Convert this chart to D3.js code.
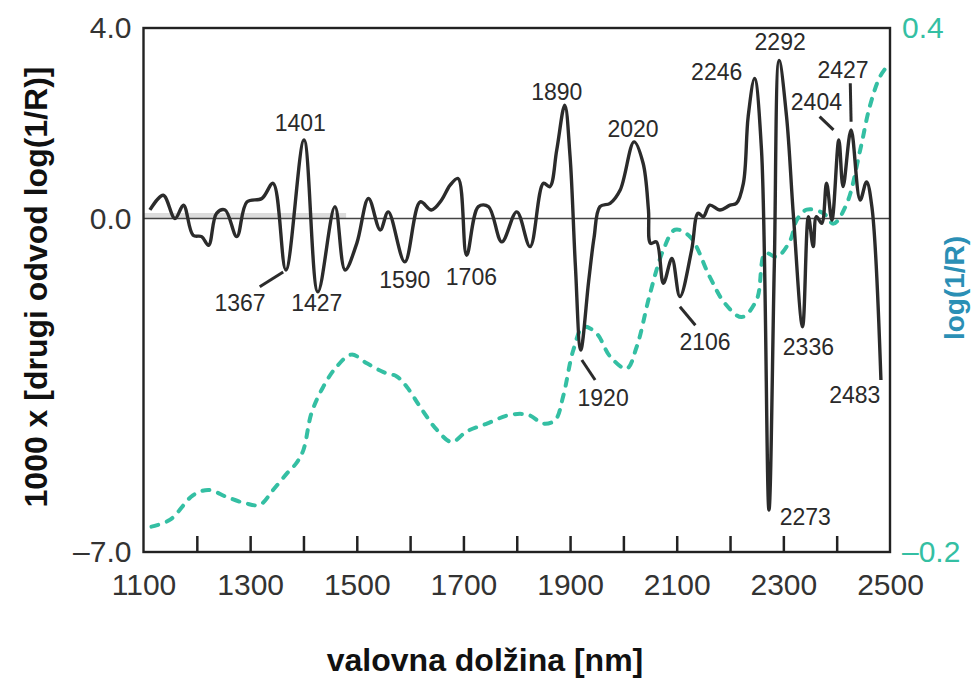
<!DOCTYPE html>
<html>
<head>
<meta charset="utf-8">
<script src="https://cdn.jsdelivr.net/npm/d3@7"></script>
<style>
  html, body { margin: 0; padding: 0; background: #fff; }
  svg { display: block; }
</style>
</head>
<body>
<svg id="chart" width="974" height="679"></svg>
<script>
// ---- data ----
const xTickLabels = [1100, 1300, 1500, 1700, 1900, 2100, 2300, 2500];
const xMinorTicks = [1200, 1300, 1400, 1500, 1600, 1700, 1800, 1900, 2000, 2100, 2200, 2300, 2400];
const yLeftTicks = [4.0, 0.0, -7.0];
const yRightTicks = [0.4, -0.2];

// second derivative (1000 x d2 log(1/R))
const derivNm = [1112,1137,1159,1175,1193,1209,1222,1237,1253,1275,
  1294,1322,1343,1367,1401,1427,1459,1478,1500,1522,
  1544,1559,1590,1619,1640,1659,1675,1690,1706,1728,
  1747,1772,1800,1825,1850,1862,1875,1890,1900,1910,
  1920,1935,1945,1956,1975,1994,2020,2037,2047,2051,
  2062,2075,2091,2106,2128,2140,2150,2162,2181,2200,
  2212,2225,2234,2246,2259,2273,2283,2292,2306,2319,2336,
  2347,2356,2362,2372,2381,2391,2404,2412,2427,2444,
  2456,2466,2483];
const derivVal = [0.18,0.49,0.0,0.28,-0.35,-0.38,-0.56,0.11,0.18,-0.38,
  0.35,0.42,0.74,-1.08,1.65,-1.54,0.25,-1.08,-0.52,0.42,
  -0.24,0.14,-0.91,0.35,0.18,0.39,0.70,0.84,-0.77,0.25,
  0.25,-0.49,0.14,-0.59,0.74,0.67,1.44,2.38,1.3,-1.0,
  -2.76,-1.3,-0.4,0.25,0.32,0.60,1.61,1.16,0.18,-0.52,
  -0.49,-1.36,-0.84,-1.64,-0.66,0.11,0.04,0.28,0.18,0.28,
  0.32,0.74,2.14,2.94,1.44,-6.12,-1.0,3.32,2.14,0.04,-2.27,
  0.04,-0.59,0.04,-0.10,0.74,-0.03,1.65,0.67,1.86,0.39,
  0.77,0.25,-3.39];

// log(1/R) spectrum
const spectrumNm = [1115,1150,1193,1222,1256,1290,1318,1343,1369,1387,
  1400,1415,1437,1462,1490,1519,1550,1575,1594,1619,
  1650,1678,1706,1744,1787,1822,1850,1872,1887,1906,
  1925,1950,1975,2006,2025,2050,2075,2097,2125,2162,
  2190,2222,2250,2266,2288,2313,2325,2344,2375,2394,
  2419,2444,2462,2481,2497];
const spectrumVal = [-0.171,-0.163,-0.135,-0.129,-0.137,-0.144,-0.146,-0.129,-0.110,-0.098,
  -0.083,-0.041,-0.011,0.012,0.026,0.016,0.006,0.001,-0.011,-0.034,
  -0.060,-0.074,-0.062,-0.053,-0.043,-0.043,-0.053,-0.049,-0.022,0.031,
  0.058,0.050,0.024,0.010,0.035,0.096,0.146,0.169,0.161,0.115,
  0.085,0.069,0.089,0.142,0.138,0.157,0.180,0.192,0.188,0.176,
  0.199,0.260,0.310,0.344,0.358];

// peak annotations (label text, label anchor in data units)
const peakLabels = ["1401","1367","1427","1590","1706","1890","1920","2020","2106","2246","2273","2292","2336","2404","2427","2483"];
const peakLabelNm = [1394,1281,1425,1590,1715,1875,1962,2018,2153,2175,2341,2294,2347,2362,2412,2434];
const peakLabelVal = [2.0,-1.77,-1.77,-1.29,-1.22,2.66,-3.77,1.89,-2.59,3.08,-6.26,3.71,-2.69,2.45,3.12,-3.71];

// leader lines (from nm/val to nm/val)
const leaderFromNm = [1318,1922,2106,2368,2425.5];
const leaderFromVal = [-1.43,-2.97,-1.85,2.14,2.84];
const leaderToNm = [1362,1947,2135,2394,2427];
const leaderToVal = [-1.12,-3.39,-2.24,1.86,2.03];

// ---- layout ----
const svg = d3.select("#chart");
const L = 143.5, R = 890, T = 28, B = 552;
const x = d3.scaleLinear().domain([1100, 2500]).range([L, R]);
const yL = d3.scaleLinear().domain([-7, 4]).range([B, T]);
const yR = d3.scaleLinear().domain([-0.2, 0.4]).range([B, T]);

const tickFont = "'Liberation Sans', Arial, sans-serif";
const teal = "#34bfa3";

// light grey band near zero line (scan artefact)
svg.append("line")
  .attr("x1", x(1100)).attr("x2", x(1480))
  .attr("y1", yL(0) - 3).attr("y2", yL(0) - 3)
  .attr("stroke", "#dcdcdc").attr("stroke-width", 5);

// zero line
svg.append("line")
  .attr("x1", L).attr("x2", R)
  .attr("y1", yL(0)).attr("y2", yL(0))
  .attr("stroke", "#444").attr("stroke-width", 1.5);

// spectrum (dashed teal)
const specData = spectrumNm.map((d, i) => [d, spectrumVal[i]]);
svg.append("path")
  .datum(specData)
  .attr("fill", "none")
  .attr("stroke", teal)
  .attr("stroke-width", 4)
  .attr("stroke-linecap", "round")
  .attr("stroke-dasharray", "7,9")
  .attr("d", d3.line().x(d => x(d[0])).y(d => yR(d[1])).curve(d3.curveCatmullRom.alpha(0.5)));

// second derivative (black)
const derData = derivNm.map((d, i) => [d, derivVal[i]]);
svg.append("path")
  .datum(derData)
  .attr("fill", "none")
  .attr("stroke", "#2b2b2b")
  .attr("stroke-width", 3.4)
  .attr("stroke-linejoin", "round")
  .attr("d", d3.line().x(d => x(d[0])).y(d => yL(d[1])).curve(d3.curveCatmullRom.alpha(0.5)));

// leader lines
leaderFromNm.forEach((d, i) => {
  svg.append("line")
    .attr("x1", x(d)).attr("y1", yL(leaderFromVal[i]))
    .attr("x2", x(leaderToNm[i])).attr("y2", yL(leaderToVal[i]))
    .attr("stroke", "#2b2b2b").attr("stroke-width", 3);
});

// peak labels
peakLabels.forEach((t, i) => {
  svg.append("text")
    .attr("x", x(peakLabelNm[i]))
    .attr("y", yL(peakLabelVal[i]))
    .attr("text-anchor", "middle")
    .attr("dominant-baseline", "central")
    .attr("font-family", tickFont)
    .attr("font-size", 23)
    .attr("fill", "#2a2a2a")
    .text(t);
});

// frame
svg.append("rect")
  .attr("x", L).attr("y", T)
  .attr("width", R - L).attr("height", B - T)
  .attr("fill", "none").attr("stroke", "#222").attr("stroke-width", 2.4);

// bottom axis ticks (inward)
const xAxis = d3.axisBottom(x).tickValues(xMinorTicks).tickSize(-16).tickFormat("");
const gx = svg.append("g").attr("transform", `translate(0,${B})`).call(xAxis);
gx.select(".domain").remove();
gx.selectAll(".tick line").attr("stroke", "#222").attr("stroke-width", 2.5);

// x tick labels
const gxl = svg.append("g").attr("transform", `translate(0,${B})`)
  .call(d3.axisBottom(x).tickValues(xTickLabels).tickSize(0).tickPadding(22).tickFormat(d3.format("d")));
gxl.select(".domain").remove();
gxl.selectAll("text").attr("font-family", tickFont).attr("font-size", 30).attr("fill", "#333");

// left y tick labels
const gyl = svg.append("g").attr("transform", `translate(${L},0)`)
  .call(d3.axisLeft(yL).tickValues(yLeftTicks).tickSize(0).tickPadding(12)
    .tickFormat(d => (d < 0 ? "\u2013" : "") + Math.abs(d).toFixed(1)));
gyl.select(".domain").remove();
gyl.selectAll("text").attr("font-family", tickFont).attr("font-size", 30).attr("fill", "#333");

// right y tick labels
const gyr = svg.append("g").attr("transform", `translate(${R},0)`)
  .call(d3.axisRight(yR).tickValues(yRightTicks).tickSize(0).tickPadding(12)
    .tickFormat(d => (d < 0 ? "\u2013" : "") + Math.abs(d).toFixed(1)));
gyr.select(".domain").remove();
gyr.selectAll("text").attr("font-family", tickFont).attr("font-size", 30).attr("fill", teal);

// axis titles
svg.append("text")
  .attr("transform", "translate(36,287) rotate(-90)")
  .attr("text-anchor", "middle").attr("dominant-baseline", "central")
  .attr("font-family", tickFont).attr("font-weight", "bold")
  .attr("font-size", 32).attr("fill", "#111")
  .text("1000 x [drugi odvod log(1/R)]");

svg.append("text")
  .attr("transform", "translate(954,288) rotate(-90)")
  .attr("text-anchor", "middle").attr("dominant-baseline", "central")
  .attr("font-family", tickFont).attr("font-weight", "bold")
  .attr("font-size", 28).attr("fill", "#2b8fb5")
  .text("log(1/R)");

svg.append("text")
  .attr("x", 485).attr("y", 660)
  .attr("text-anchor", "middle").attr("dominant-baseline", "central")
  .attr("font-family", tickFont).attr("font-weight", "bold")
  .attr("font-size", 32).attr("fill", "#111")
  .text("valovna dolžina [nm]");
</script>
</body>
</html>
